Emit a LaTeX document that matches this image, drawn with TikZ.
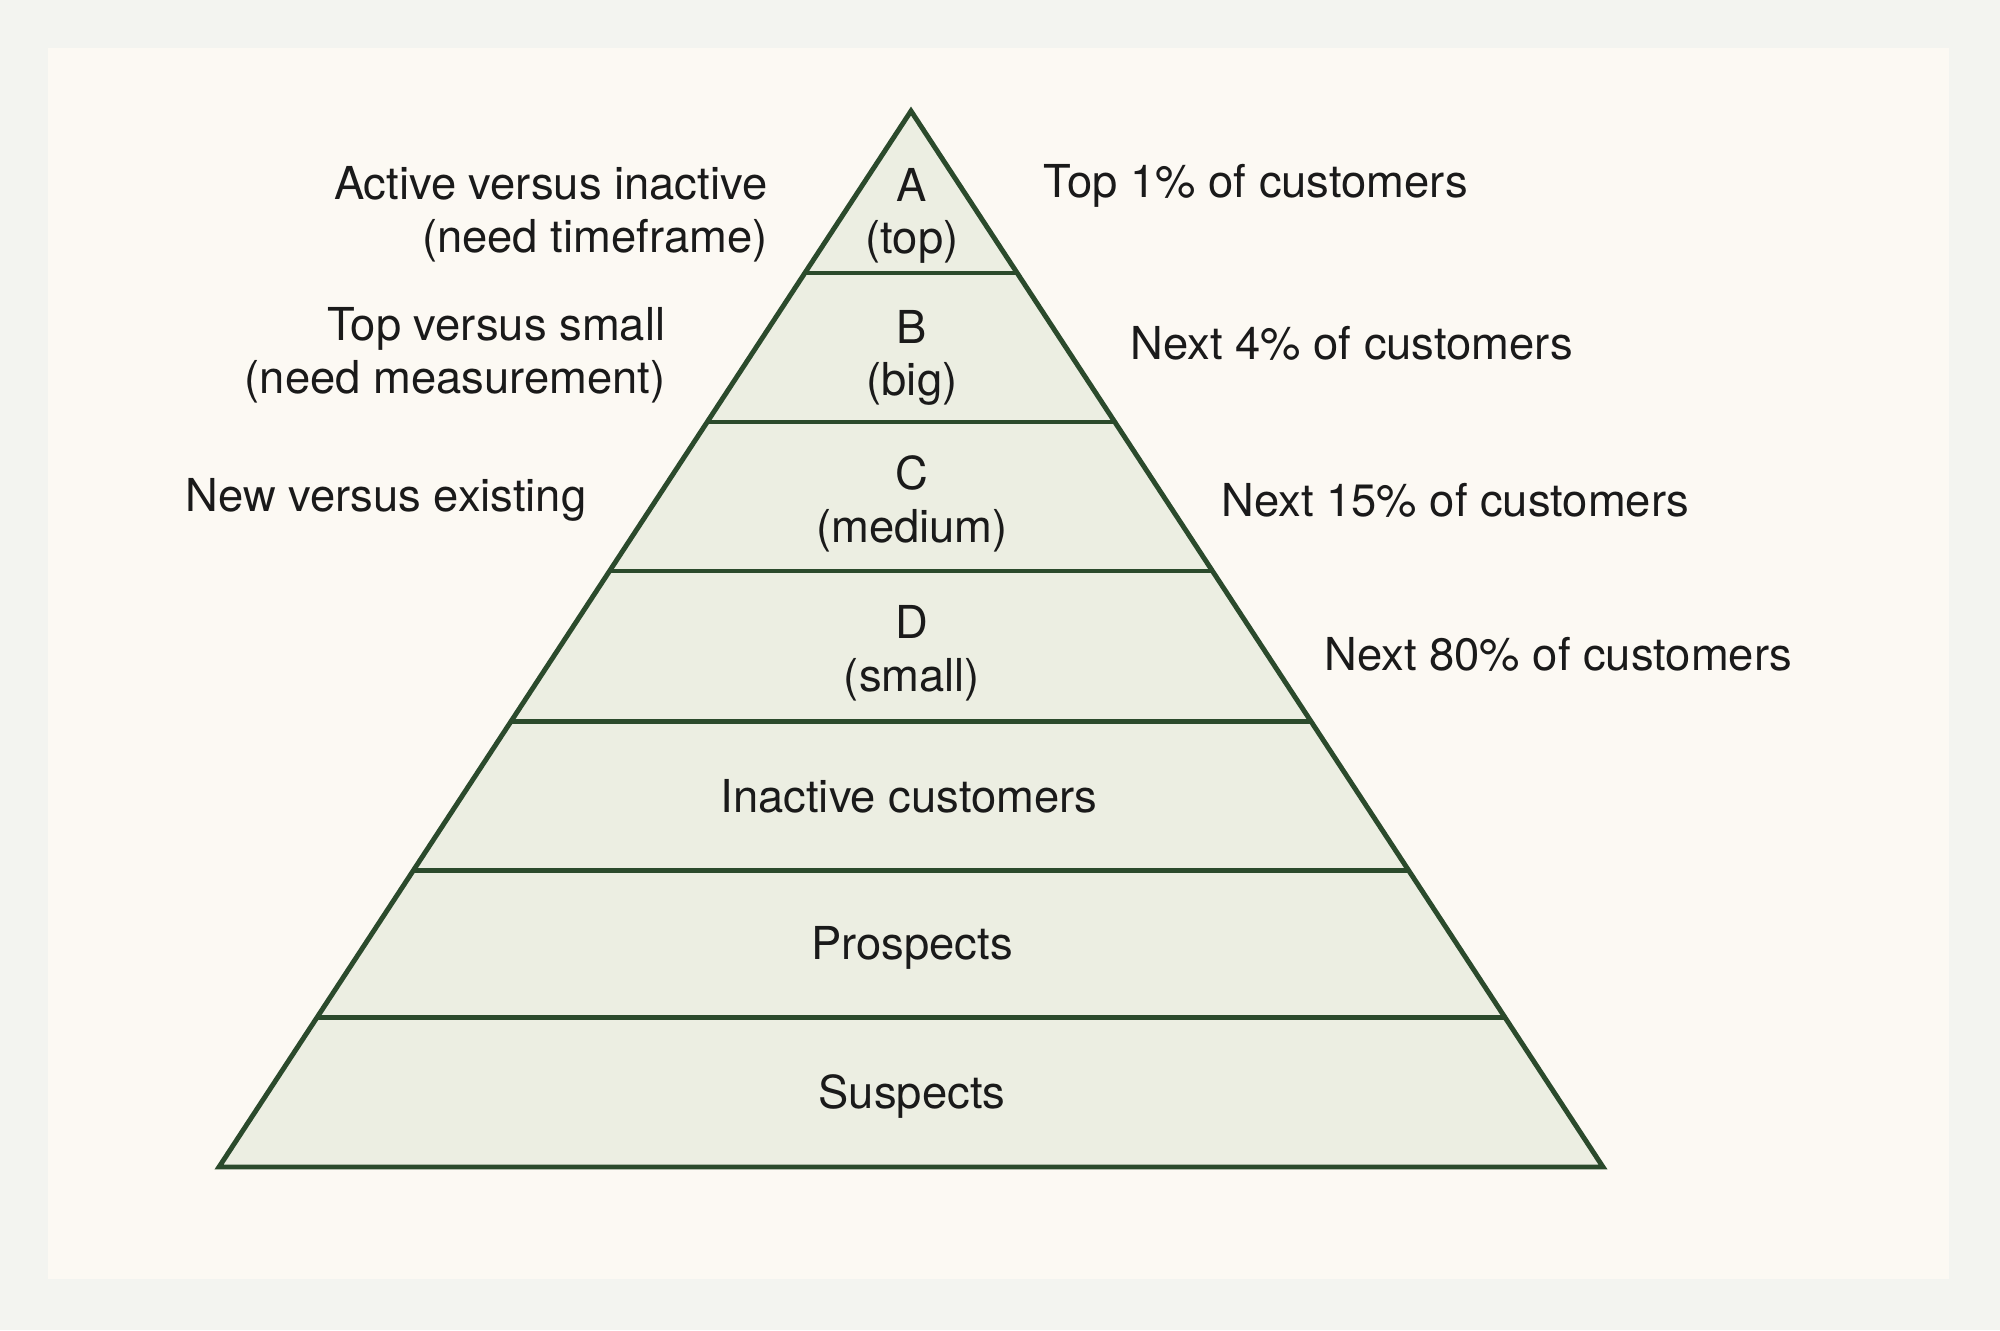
\documentclass[tikz,border=0pt]{standalone}
\usepackage{fontspec}
\setmainfont{TeX Gyre Heros}
\usetikzlibrary{calc}
\definecolor{pagebg}{HTML}{F3F4F0}
\definecolor{panelbg}{HTML}{FCF9F3}
\definecolor{tierfill}{HTML}{ECEEE2}
\definecolor{tierline}{HTML}{2B4A2C}
\definecolor{ink}{HTML}{1A1A1A}

\begin{document}
\begin{tikzpicture}[x=0.01cm,y=-0.01cm,font=\fontsize{12.9}{15}\selectfont,
  every node/.style={text=ink},
  tier/.style={align=center},
  note/.style={align=right,anchor=east,inner sep=0pt},
  share/.style={anchor=west,inner sep=0pt}]
\fill[pagebg] (0,0) rectangle (2000,1330);
\fill[panelbg] (48,48) rectangle (1949,1279);
\coordinate (apex) at (911,111);
\coordinate (bl) at (219,1167);
\coordinate (br) at (1603,1167);
\filldraw[fill=tierfill,draw=tierline,line width=1.4pt,line join=miter]
  (apex) -- (br) -- (bl) -- cycle;
\foreach \t in {0.1534,0.2945,0.4356,0.5777,0.7188,0.8580}
  \draw[tierline,line width=1.4pt] ($(apex)!\t!(bl)$) -- ($(apex)!\t!(br)$);
% tiers
\path node[tier] (a) at (912,216) {A\\(top)}
  node[tier] (b) at (912,358) {B\\(big)}
  node[tier] (c) at (912,504) {C\\(medium)}
  node[tier] (d) at (912,653) {D\\(small)}
  node[tier] (inactive) at (909,796) {Inactive customers}
  node[tier] (prospects) at (912,948) {Prospects}
  node[tier] (suspects) at (912,1096) {Suspects};
% left side
\path node[note] (activity) at (768,214) {Active versus inactive\\(need timeframe)}
  node[note] (size) at (666,355) {Top versus small\\(need measurement)}
  node[note] (tenure) at (587,500) {New versus existing};
% right side
\path node[share] (top1) at (1043,186) {Top 1\% of customers}
  node[share] (next4) at (1130,343) {Next 4\% of customers}
  node[share] (next15) at (1221,500) {Next 15\% of customers}
  node[share] (next80) at (1324,654) {Next 80\% of customers};
\end{tikzpicture}
\end{document}
